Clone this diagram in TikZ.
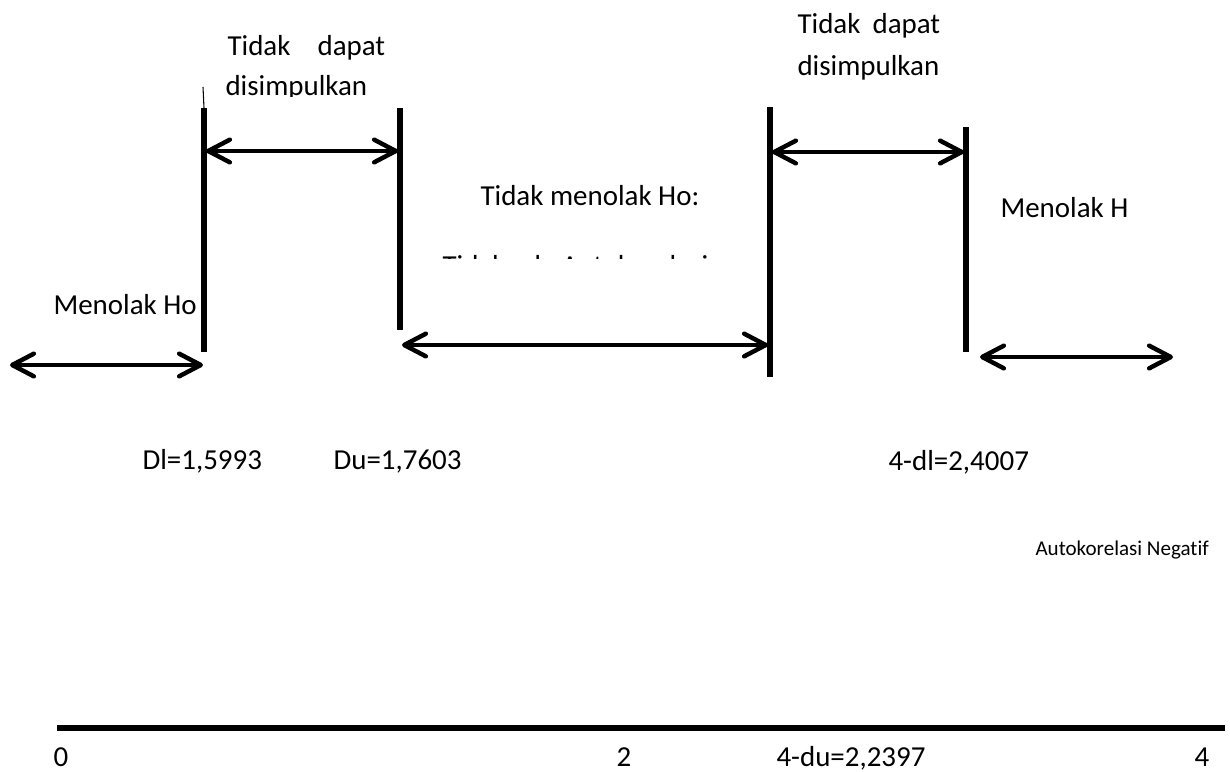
\documentclass[tikz,border=0pt]{standalone}
\usepackage{fontspec}
\setmainfont{Carlito}[Ligatures=NoCommon]
\usetikzlibrary{arrows.meta}
\tikzset{
  barb/.tip={Straight Barb[length=8.2pt,width=8.6pt,line cap=round,line join=round]},
  bound/.style={line width=2pt},
  span/.style={line width=1.7pt,line cap=round,barb-barb},
  lbl/.style={anchor=base west,inner sep=0pt,font=\fontsize{11}{13}\selectfont},
  smalllbl/.style={lbl,font=\fontsize{8}{10}\selectfont}
}
\begin{document}
\begin{tikzpicture}[x=0.38pt,y=-0.38pt]
        \useasboundingbox (0,0) rectangle (1230,771);
        %% Bounds dl, du, 4-du, 4-dl
        \coordinate (dl top) at (204,108);  \coordinate (dl bot) at (204,352);
        \coordinate (du top) at (400,108);  \coordinate (du bot) at (400,330);
        \coordinate (udu top) at (770,107); \coordinate (udu bot) at (770,377);
        \coordinate (udl top) at (966,127); \coordinate (udl bot) at (966,352);
        \draw[line width=0.4pt] (203,87) -- (dl top);
        \draw[bound] (dl top) -- (dl bot);
        \draw[bound] (du top) -- (du bot);
        \draw[bound] (udu top) -- (udu bot);
        \draw[bound] (udl top) -- (udl bot);
        %% Arrows
        \coordinate (rej w) at (10,365);   \coordinate (rej e) at (203,365);
        \coordinate (inc1 w) at (206,151); \coordinate (inc1 e) at (398,151);
        \coordinate (acc w) at (402,345);  \coordinate (acc e) at (768,345);
        \coordinate (inc2 w) at (772,152); \coordinate (inc2 e) at (964,152);
        \coordinate (neg w) at (980,357);  \coordinate (neg e) at (1173,357);
        \draw[span] (rej w) -- (rej e);
        \draw[span] (inc1 w) -- (inc1 e);
        \draw[span] (acc w) -- (acc e);
        \draw[span] (inc2 w) -- (inc2 e);
        \draw[span] (neg w) -- (neg e);
        %% Labels
        \node[lbl] (inc1 a) at (227,55) {Tidak\hskip10.3pt dapat};
        \begin{scope}
          \clip (200,60) rectangle (420,96);
          \node[lbl] (inc1 b) at (225,95) {disimpulkan};
        \end{scope}
        \node[lbl] (inc2 a) at (797,33) {Tidak\hskip4.6pt dapat};
        \node[lbl] (inc2 b) at (797,75) {disimpulkan};
        \node[lbl] (acc a) at (480,205) {Tidak menolak Ho:};
        \begin{scope}
          \clip (430,240) rectangle (730,258);
          \node[lbl] (acc b) at (442,275) {Tidak ada Autokorelasi};
        \end{scope}
        \node[lbl] (neg a) at (1000,217) {Menolak H};
        \node[lbl] (rej a) at (53,314) {Menolak Ho};
        \node[lbl] (dl) at (142,469) {Dl=1,5993};
        \node[lbl] (du) at (333,469) {Du=1,7603};
        \node[lbl] (udl) at (888,470) {4-dl=2,4007};
        \node[smalllbl] (neg b) at (1035,555) {Autokorelasi Negatif};
        %% Axis
        \draw[line width=2.6pt] (57,728) -- (1225,728);
        \node[lbl] (zero) at (53,766) {0};
        \node[lbl] (two) at (616,766) {2};
        \node[lbl] (udu) at (776,766) {4-du=2,2397};
        \node[lbl] (four) at (1194,766) {4};
    \end{tikzpicture}
\end{document}
